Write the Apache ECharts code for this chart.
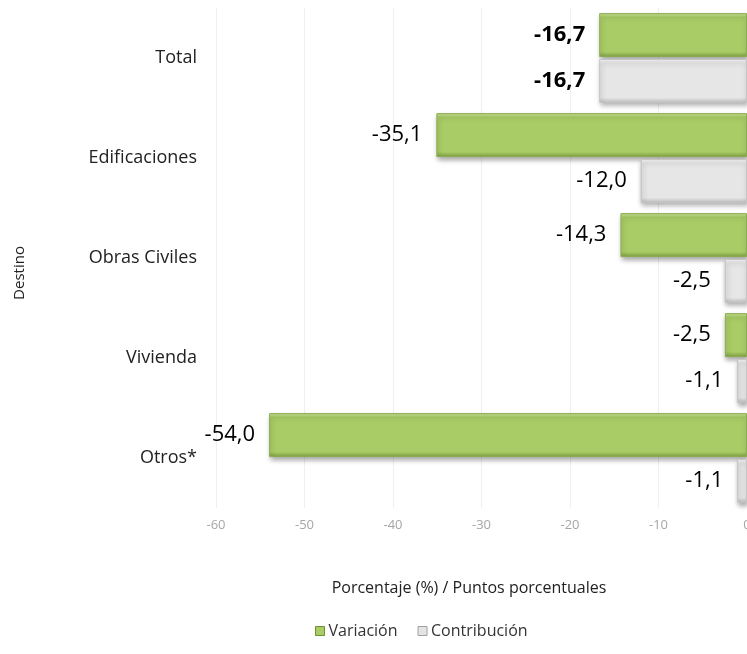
<!DOCTYPE html>
<html>
<head>
<meta charset="utf-8">
<script src="https://cdn.jsdelivr.net/npm/echarts@6/dist/echarts.min.js"></script>
<style>
  html, body { margin: 0; padding: 0; background: #fff; }
  #chart { width: 747px; height: 654px; }
</style>
</head>
<body>
<div id="chart"></div>
<script>
// Datos
const categories = ['Total', 'Edificaciones', 'Obras Civiles', 'Vivienda', 'Otros*'];
const variacion = [-16.7, -35.1, -14.3, -2.5, -54.0];
const contribucion = [-16.7, -12.0, -2.5, -1.1, -1.1];
const xTicks = [-60, -50, -40, -30, -20, -10, 0];

const FONT = 'Open Sans';

const fmt = v => v.toFixed(1).replace('.', ',');

// gradient to fake the bevel of the original bars
const bevel = (light, main, dark) => ({
  type: 'linear', x: 0, y: 0, x2: 0, y2: 1,
  colorStops: [
    { offset: 0, color: light },
    { offset: 0.1, color: main },
    { offset: 0.88, color: main },
    { offset: 1, color: dark }
  ]
});

// first item (Total) gets bold label
const toItems = arr => arr.map((v, i) => (i === 0 ? { value: v, label: { fontWeight: 'bold' } } : v));

const barSeries = (name, data, color, border) => ({
  name,
  type: 'bar',
  data: toItems(data),
  barWidth: 44,
  barGap: '4%',
  itemStyle: {
    color,
    borderColor: border,
    borderWidth: 1,
    shadowColor: 'rgba(0,0,0,0.35)',
    shadowBlur: 5,
    shadowOffsetX: 1,
    shadowOffsetY: 3
  },
  label: {
    show: true,
    position: 'left',
    distance: 14,
    fontFamily: FONT,
    fontSize: 22,
    color: '#000',
    formatter: p => fmt(p.value)
  }
});

const chart = echarts.init(document.getElementById('chart'));

chart.setOption({
  animation: false,
  textStyle: { fontFamily: FONT },
  grid: { left: 216, right: 0, top: 8, height: 500, outerBoundsMode: 'none', containLabel: false },
  legend: {
    left: 310,
    top: 618,
    itemWidth: 9,
    itemHeight: 9,
    itemGap: 20,
    icon: 'rect',
    textStyle: { fontFamily: FONT, fontSize: 16, color: '#333', padding: [0, 0, 0, -1] },
    data: [
      { name: 'Variación', itemStyle: { color: '#a9cc66', borderColor: '#6f8f35', borderWidth: 1, shadowBlur: 0, shadowOffsetX: 0, shadowOffsetY: 0 } },
      { name: 'Contribución', itemStyle: { color: '#e4e4e4', borderColor: '#a0a0a0', borderWidth: 1, shadowBlur: 0, shadowOffsetX: 0, shadowOffsetY: 0 } }
    ]
  },
  xAxis: {
    type: 'value',
    min: xTicks[0],
    max: xTicks[xTicks.length - 1],
    interval: 10,
    name: 'Porcentaje (%) / Puntos porcentuales',
    nameLocation: 'middle',
    nameGap: 72,
    nameTextStyle: { fontFamily: FONT, fontSize: 16, color: '#222', padding: [0, 25, 0, 0] },
    axisLine: { show: false },
    axisTick: { show: false },
    axisLabel: { color: '#a6a6a6', fontSize: 13, margin: 11, fontFamily: FONT },
    splitLine: { show: true, lineStyle: { color: '#efefef', width: 1 } }
  },
  yAxis: {
    type: 'category',
    data: categories,
    inverse: true,
    name: 'Destino',
    nameLocation: 'middle',
    nameGap: 189,
    nameRotate: 90,
    nameTextStyle: { fontFamily: FONT, fontSize: 15, color: '#222', padding: [0, 30, 0, 0] },
    axisLine: { show: false },
    axisTick: { show: false },
    axisLabel: { fontFamily: FONT, fontSize: 18, color: '#222', margin: 19 }
  },
  series: [
    barSeries('Variación', variacion, bevel('#c9e293', '#a9cc66', '#7d9d42'), '#8cab50'),
    barSeries('Contribución', contribucion, bevel('#f7f7f7', '#e6e6e6', '#bdbdbd'), '#c4c4c4')
  ]
});
</script>
</body>
</html>
